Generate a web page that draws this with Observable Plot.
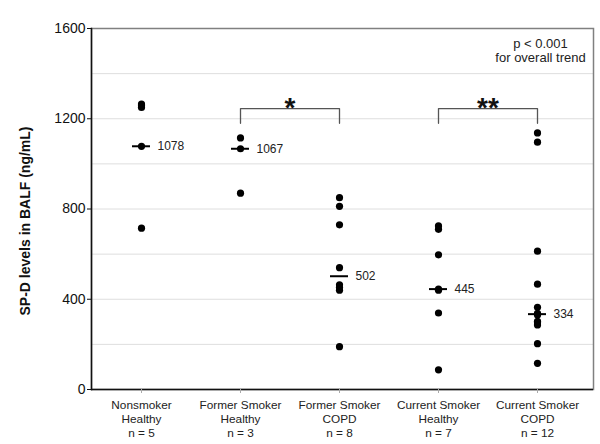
<!DOCTYPE html>
<html>
<head>
<meta charset="utf-8">
<script src="https://cdn.jsdelivr.net/npm/d3@7"></script>
<script src="https://cdn.jsdelivr.net/npm/@observablehq/plot@0.6"></script>
<style>
  html, body { margin: 0; padding: 0; background: #fff; }
  #chart { width: 600px; height: 444px; }
</style>
</head>
<body>
<div id="chart"></div>
<script>
// ---- data ----
const groups = ["Nonsmoker Healthy", "Former Smoker Healthy", "Former Smoker COPD", "Current Smoker Healthy", "Current Smoker COPD"];
const tickLabels = [
  "Nonsmoker\nHealthy\nn = 5",
  "Former Smoker\nHealthy\nn = 3",
  "Former Smoker\nCOPD\nn = 8",
  "Current Smoker\nHealthy\nn = 7",
  "Current Smoker\nCOPD\nn = 12"
];
const nonsmokerHealthy = [715, 1078, 1250, 1258, 1265];
const formerSmokerHealthy = [870, 1067, 1115];
const formerSmokerCOPD = [190, 440, 452, 464, 540, 730, 812, 850];
const currentSmokerHealthy = [87, 339, 440, 445, 597, 710, 725];
const currentSmokerCOPD = [116, 203, 286, 296, 302, 330, 338, 364, 467, 613, 1096, 1137];
const medians = [1078, 1067, 502, 445, 334];
const yTicks = [0, 400, 800, 1200, 1600];
const yGrid = [200, 400, 600, 800, 1000, 1200, 1400];
const comparisons = [
  {from: 1, to: 2, label: "*"},
  {from: 3, to: 4, label: "**"}
];
const bracketTop = 1245;
const bracketLeg = 1180;
const yTitle = "SP-D levels in BALF (ng/mL)";
const trendNote = "p < 0.001\nfor overall trend";

// ---- derived tables ----
const series = [nonsmokerHealthy, formerSmokerHealthy, formerSmokerCOPD, currentSmokerHealthy, currentSmokerCOPD];
const points = series.flatMap((vals, i) => vals.map(v => ({i, v})));
const medianRows = medians.map((v, i) => ({i, v}));
const bracketPaths = comparisons.flatMap((c, k) => [
  {k, x: c.from, y: bracketLeg},
  {k, x: c.from, y: bracketTop},
  {k, x: c.to, y: bracketTop},
  {k, x: c.to, y: bracketLeg}
]);
const starRows = comparisons.map(c => ({x: (c.from + c.to) / 2, y: bracketTop, label: c.label}));

const font = "'Liberation Sans', Arial, Helvetica, sans-serif";

const chart = Plot.plot({
  width: 600,
  height: 444,
  marginLeft: 91,
  marginRight: 7,
  marginTop: 28,
  marginBottom: 55,
  style: {fontFamily: font, background: "#fff", color: "#111"},
  x: {type: "linear", domain: [0, groups.length - 1], range: [141, 537]},
  y: {domain: [0, 1600]},
  marks: [
    Plot.gridY(yGrid, {stroke: "#dedede", strokeOpacity: 1}),
    Plot.frame({stroke: "#808080", strokeWidth: 1.5}),
    Plot.ruleY([0], {stroke: "#111", strokeWidth: 1.5}),
    Plot.frame({anchor: "left", stroke: "#111", strokeWidth: 1.5}),
    Plot.axisY(yTicks, {tickSize: 4, tickPadding: 2, fontSize: 14, label: null, tickFormat: d => String(d), stroke: "#111", fill: "#111"}),
    Plot.axisX([0, 1, 2, 3, 4], {tickFormat: i => tickLabels[i], tickSize: 4, tickPadding: 5, fontSize: 11.8, lineHeight: 1.2, label: null, stroke: "#aaa", fill: "#222"}),
    Plot.line(bracketPaths, {x: "x", y: "y", z: "k", stroke: "#555", strokeWidth: 1.3}),
    Plot.text(starRows, {x: "x", y: "y", text: "label", fontSize: 28, fontWeight: "bold", lineAnchor: "middle", dy: -1, fill: "#111"}),
    Plot.dot(points, {x: "i", y: "v", r: 3.6, fill: "#000", stroke: "none"}),
    Plot.ruleY(medianRows, {x1: "i", x2: "i", y: "v", insetLeft: -9, insetRight: -9, stroke: "#000", strokeWidth: 2}),
    Plot.text(medianRows, {x: "i", y: "v", text: d => String(d.v), dx: 16, textAnchor: "start", fontSize: 12, fill: "#222"}),
    Plot.text([yTitle], {frameAnchor: "left", textAnchor: "middle", lineAnchor: "middle", rotate: -90, dx: -66, dy: 12, fontSize: 14, fontWeight: "bold", fill: "#111"}),
    Plot.text([trendNote], {frameAnchor: "top-right", dx: -53, dy: 22, textAnchor: "middle", lineAnchor: "middle", lineHeight: 1.1, fontSize: 13, fill: "#222"})
  ]
});
document.getElementById("chart").appendChild(chart);
</script>
</body>
</html>
